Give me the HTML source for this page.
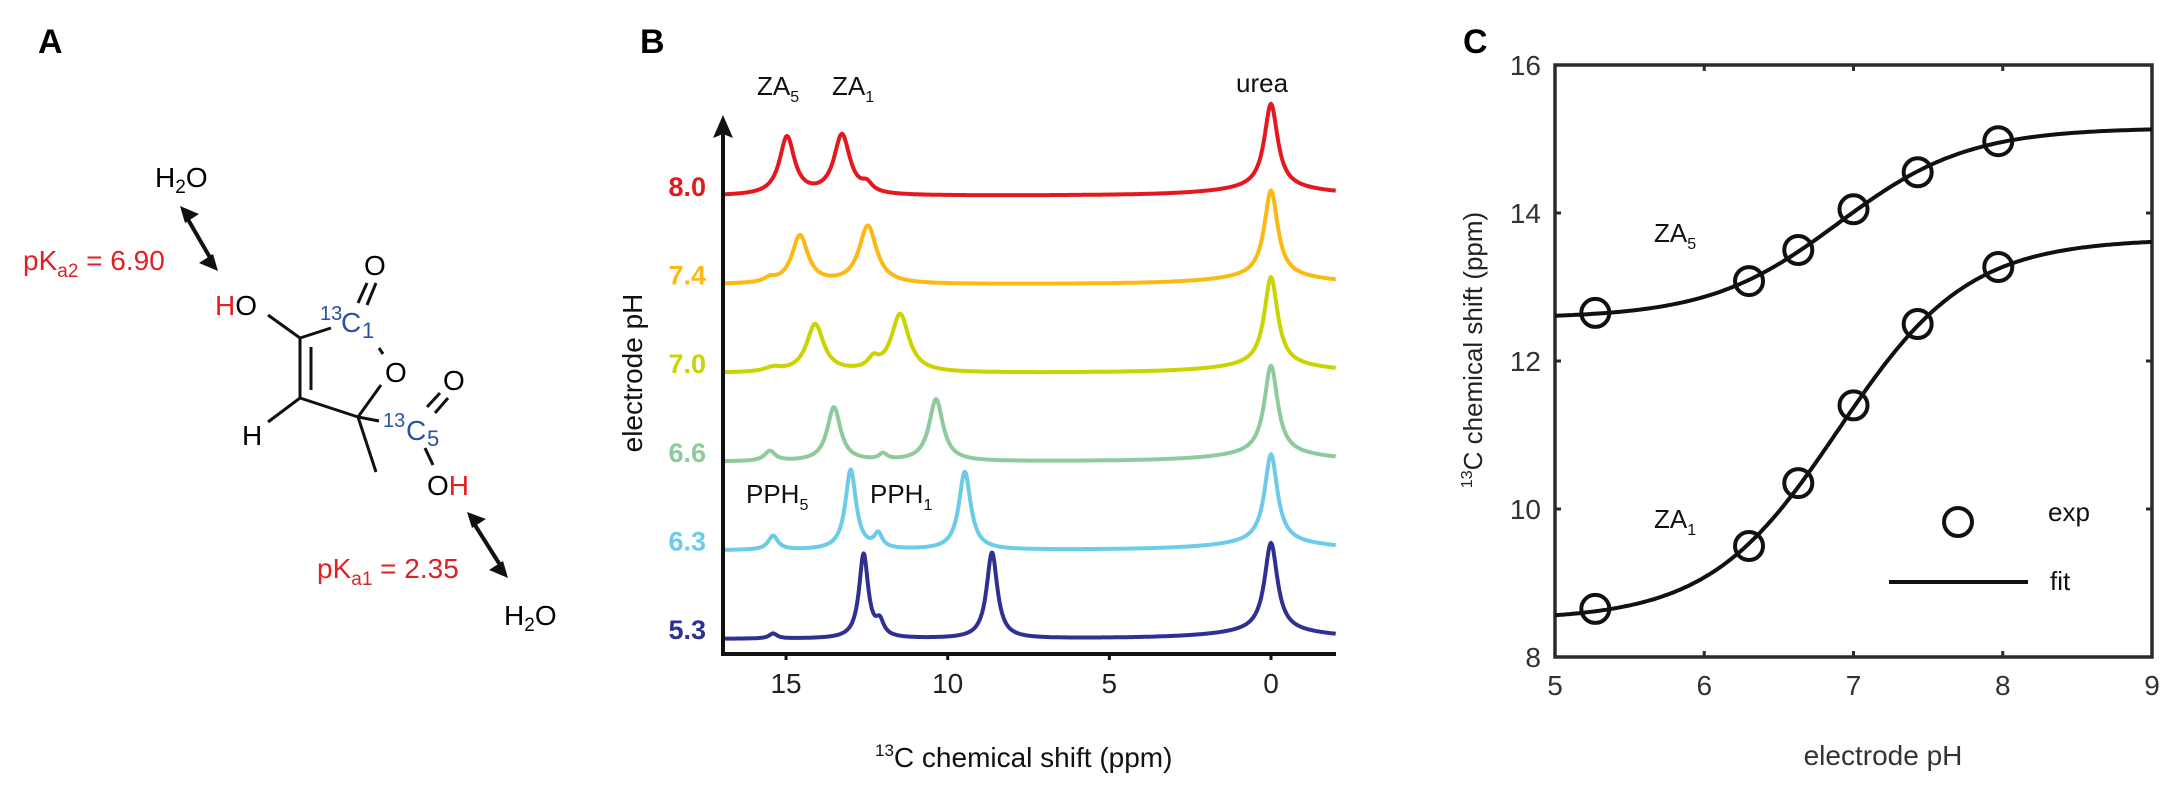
<!DOCTYPE html>
<html><head><meta charset="utf-8">
<style>
html,body{margin:0;padding:0;background:#fff;}
svg{display:block;font-family:"Liberation Sans",Arial,sans-serif;}
</style></head>
<body>
<svg id="fig" width="2161" height="810" viewBox="0 0 2161 810" xmlns="http://www.w3.org/2000/svg">
<!-- Panel A -->
<g font-size="28">
  <text x="38" y="53" font-size="34" font-weight="bold">A</text>
  <text x="155" y="187">H<tspan font-size="19" dy="6">2</tspan><tspan dy="-6">O</tspan></text>
  <g stroke="#111" stroke-width="4" fill="#111">
    <line x1="186" y1="216" x2="212" y2="261"/>
    <polygon points="180,206 199,214 185,223" stroke="none"/>
    <polygon points="218,271 199,263 213,254" stroke="none"/>
  </g>
  <text x="23" y="270" fill="#e31e24">pK<tspan font-size="19" dy="7">a2</tspan><tspan dy="-7"> = 6.90</tspan></text>
  <text x="215" y="315"><tspan fill="#e31e24">H</tspan>O</text>
  <g stroke="#111" stroke-width="3" fill="none">
    <line x1="268" y1="315" x2="300" y2="338"/>
    <line x1="300" y1="338" x2="331" y2="328"/>
    <line x1="300" y1="338" x2="300" y2="398"/>
    <line x1="311" y1="347" x2="311" y2="390"/>
    <line x1="300" y1="398" x2="268" y2="422"/>
    <line x1="300" y1="398" x2="358" y2="417"/>
    <line x1="358" y1="417" x2="381" y2="385"/>
    <line x1="379" y1="348" x2="383" y2="354"/>
    <line x1="358" y1="303" x2="367" y2="283"/>
    <line x1="367" y1="305" x2="376" y2="283"/>
    <line x1="358" y1="417" x2="376" y2="472"/>
    <line x1="358" y1="417" x2="379" y2="421"/>
    <line x1="427" y1="407" x2="440" y2="393"/>
    <line x1="435" y1="413" x2="448" y2="398"/>
    <line x1="425" y1="448" x2="433" y2="465"/>
  </g>
  <text x="242" y="445">H</text>
  <text x="385" y="382">O</text>
  <text x="364" y="275">O</text>
  <text x="443" y="390">O</text>
  <text x="320" y="320" fill="#2a52a3" font-size="20">13</text>
  <text x="341" y="332" fill="#2a52a3">C</text>
  <text x="362" y="338" fill="#2a52a3" font-size="22">1</text>
  <text x="383" y="427" fill="#2a52a3" font-size="20">13</text>
  <text x="406" y="440" fill="#2a52a3">C</text>
  <text x="427" y="446" fill="#2a52a3" font-size="22">5</text>
  <text x="427" y="495">O<tspan fill="#e31e24">H</tspan></text>
  <g stroke="#111" stroke-width="4" fill="#111">
    <line x1="473" y1="522" x2="502" y2="568"/>
    <polygon points="467,512 486,519 472,528" stroke="none"/>
    <polygon points="508,578 489,570 503,561" stroke="none"/>
  </g>
  <text x="317" y="578" fill="#e31e24">pK<tspan font-size="19" dy="7">a1</tspan><tspan dy="-7"> = 2.35</tspan></text>
  <text x="504" y="625">H<tspan font-size="19" dy="6">2</tspan><tspan dy="-6">O</tspan></text>
</g>

<!-- Panel B -->
<g id="panelB">
  <text x="640" y="53" font-size="34" font-weight="bold">B</text>
</g>
<!-- Panel C -->
<g id="panelC">
  <text x="1463" y="53" font-size="34" font-weight="bold">C</text>
</g>
</svg>
<script>
// ---------- Panel B data ----------
const phLabels = ["8.0","7.4","7.0","6.6","6.3","5.3"];
const phColors = ["#e3191f","#fdb913","#c9d400","#8dcb9c","#6ccbe6","#2e3192"];
const peakPos = [
  [14.97,13.27,12.5,0],
  [14.57,12.47,15.5,0],
  [14.1,11.47,12.3,15.4,0],
  [13.52,10.36,15.5,12.0,0],
  [13.0,9.47,15.4,12.15,0],
  [12.6,8.63,15.4,12.1,0]
];
const peakHeights = [
  [58,60,8,84],
  [48,58,4,86],
  [48,58,10,4,88],
  [54,62,10,6,88],
  [80,78,14,14,88],
  [84,86,5,14,88]
];
const peakWidths = [
  [0.28,0.3,0.2,0.25],
  [0.3,0.33,0.2,0.25],
  [0.32,0.33,0.2,0.3,0.25],
  [0.25,0.26,0.2,0.15,0.25],
  [0.2,0.22,0.18,0.15,0.24],
  [0.17,0.2,0.15,0.15,0.24]
];
const xTicksB = [15,10,5,0];

const NS="http://www.w3.org/2000/svg";
function mk(tag,attrs,parent){const e=document.createElementNS(NS,tag);for(const k in attrs)e.setAttribute(k,attrs[k]);parent.appendChild(e);return e;}

const gB=document.getElementById('panelB');
const bLeft=723,bRight=1336,bBottom=654;
const xB = ppm => 1271 - ppm*32.33;
const baseY = i => 190 + i*88.6;

for(let i=0;i<phLabels.length;i++){
  let d="";
  for(let p=17;p>=-2.001;p-=0.02){
    let v=0;
    for(let k=0;k<peakPos[i].length;k++){
      const g=peakWidths[i][k];const dx=p-peakPos[i][k];
      v+=peakHeights[i][k]*g*g/(dx*dx+g*g);
    }
    v+=8*4/((p*p)+4); // broad urea foot
    const x=xB(p), y=baseY(i)+6-v;
    d+=(d?"L":"M")+x.toFixed(1)+","+y.toFixed(1);
  }
  const path=mk('path',{d:d,fill:"none",stroke:phColors[i],"stroke-width":4,"stroke-linejoin":"round"},gB);
  
  
  const t=mk('text',{x:706,y:baseY(i)+6,"text-anchor":"end","font-size":27,"font-weight":"bold",fill:phColors[i]},gB);
  t.textContent=phLabels[i];
  
  
}
// axes B
const axB=mk('line',{x1:bLeft-2,y1:bBottom,x2:bRight,y2:bBottom,stroke:"#111","stroke-width":4},gB);


const arr=mk('line',{x1:bLeft,y1:bBottom+2,x2:bLeft,y2:132,stroke:"#111","stroke-width":4},gB);


const head=mk('polygon',{points:`${bLeft},115 ${bLeft-10},138 ${bLeft},134 ${bLeft+10},138`,fill:"#111"},gB);


xTicksB.forEach(v=>{
  const tk=mk('line',{x1:xB(v),y1:bBottom,x2:xB(v),y2:bBottom+6,stroke:"#111","stroke-width":3},gB);
  
  
  const tl=mk('text',{x:xB(v),y:693,"text-anchor":"middle","font-size":28,fill:"#222"},gB);
  tl.textContent=v;
  
  
});
function lab(parent,x,y,main,sub,name,size){
  const t=mk('text',{x:x,y:y,"font-size":size||26,fill:"#111"},parent);
  t.textContent=main;
  const s=document.createElementNS(NS,'tspan');s.setAttribute('font-size',16);s.setAttribute('dy',7);s.textContent=sub;t.appendChild(s);
  
  
}
lab(gB,757,95,"ZA","5","label-za5-b");
lab(gB,832,95,"ZA","1","label-za1-b");
const ur=mk('text',{x:1236,y:92,"font-size":26,fill:"#111"},gB);ur.textContent="urea";


lab(gB,746,503,"PPH","5","label-pph5");
lab(gB,870,503,"PPH","1","label-pph1");
const ylB=mk('text',{x:0,y:0,"font-size":28,fill:"#111","text-anchor":"middle",transform:"translate(642,373) rotate(-90)"},gB);
ylB.textContent="electrode pH";


const xlB=mk('text',{x:875,y:767,"font-size":28,fill:"#111"},gB);
xlB.innerHTML='<tspan font-size="17" dy="-11">13</tspan><tspan dy="11">C chemical shift (ppm)</tspan>';



// ---------- Panel C data ----------
const za5pH = [5.27,6.3,6.63,7.0,7.43,7.97];
const za5Shift = [12.65,13.08,13.5,14.05,14.55,14.97];
const za1pH = [5.27,6.3,6.63,7.0,7.43,7.97];
const za1Shift = [8.65,9.5,10.35,11.4,12.5,13.27];
const fitLow = [12.58,8.5];
const fitHigh = [15.15,13.65];
const fitPKa = [6.9,6.9];
const xTicksC = [5,6,7,8,9];
const yTicksC = [8,10,12,14,16];

const gC=document.getElementById('panelC');
const cL=1555,cR=2152,cT=65,cB=657;
const xC=v=>cL+(v-5)*(cR-cL)/4;
const yC=v=>cB-(v-8)*(cB-cT)/8;
const frame=mk('rect',{x:cL,y:cT,width:cR-cL,height:cB-cT,fill:"none",stroke:"#2b2b2b","stroke-width":3.5},gC);


xTicksC.forEach(v=>{
  [[cB,cB-6],[cT,cT+6]].forEach(([a,b])=>{
    const tk=mk('line',{x1:xC(v),y1:a,x2:xC(v),y2:b,stroke:"#2b2b2b","stroke-width":3},gC);
    
    
  });
  const tl=mk('text',{x:xC(v),y:695,"text-anchor":"middle","font-size":28,fill:"#333"},gC);
  tl.textContent=v;
  
  
});
yTicksC.forEach(v=>{
  [[cL,cL+6],[cR,cR-6]].forEach(([a,b])=>{
    const tk=mk('line',{x1:a,y1:yC(v),x2:b,y2:yC(v),stroke:"#2b2b2b","stroke-width":3},gC);
    
    
  });
  const tl=mk('text',{x:1541,y:yC(v)+10,"text-anchor":"end","font-size":28,fill:"#333"},gC);
  tl.textContent=v;
  
  
});
for(let s=0;s<2;s++){
  let d="";
  for(let p=5;p<=9.0001;p+=0.02){
    const y=fitLow[s]+(fitHigh[s]-fitLow[s])/(1+Math.pow(10,fitPKa[s]-p));
    d+=(d?"L":"M")+xC(p).toFixed(1)+","+yC(y).toFixed(1);
  }
  const fl=mk('path',{d:d,fill:"none",stroke:"#111","stroke-width":4},gC);
  
  
}
function pts(xs,ys,name){
  xs.forEach((x,i)=>{
    const c=mk('circle',{cx:xC(x),cy:yC(ys[i]),r:14,fill:"none",stroke:"#111","stroke-width":4},gC);
    
    
  });
}
pts(za5pH,za5Shift,'point-za5');
pts(za1pH,za1Shift,'point-za1');
lab(gC,1654,242,"ZA","5","label-za5-c");
lab(gC,1654,528,"ZA","1","label-za1-c");
const lc=mk('circle',{cx:1958,cy:522,r:14,fill:"none",stroke:"#111","stroke-width":4},gC);


const le=mk('text',{x:2048,y:521,"font-size":26,fill:"#111"},gC);le.textContent="exp";


const ll=mk('line',{x1:1889,y1:582,x2:2028,y2:582,stroke:"#111","stroke-width":4},gC);


const lf=mk('text',{x:2050,y:590,"font-size":26,fill:"#111"},gC);lf.textContent="fit";


const ylC=mk('text',{x:0,y:0,"font-size":26,fill:"#222","text-anchor":"middle",transform:"translate(1482,350) rotate(-90)"},gC);
ylC.innerHTML='<tspan font-size="16" dy="-10">13</tspan><tspan dy="10">C chemical shift (ppm)</tspan>';


const xlC=mk('text',{x:1883,y:765,"font-size":28,fill:"#333","text-anchor":"middle"},gC);
xlC.textContent="electrode pH";


</script>
</body></html>
